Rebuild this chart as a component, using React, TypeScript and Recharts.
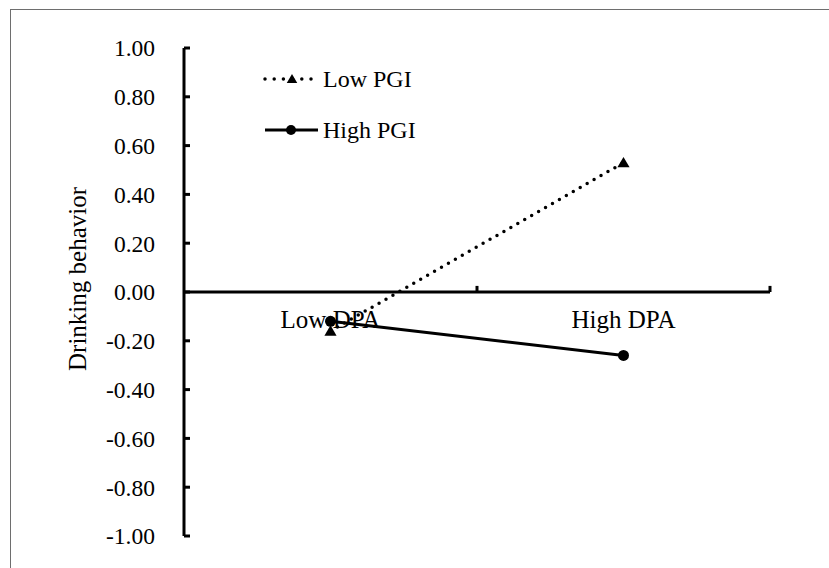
import React from 'react';
import { LineChart, Line, XAxis, YAxis, ReferenceLine, ReferenceDot, Legend } from 'recharts';

const categories = ['Low DPA', 'High DPA'];
const categoryPositions = [0.5, 1.5];
const boundaryTicks = [1, 2];
const seriesNames = ['Low PGI', 'High PGI'];
const lowPGI = [-0.16, 0.53];
const highPGI = [-0.12, -0.26];
const yTicks = [1, 0.8, 0.6, 0.4, 0.2, 0, -0.2, -0.4, -0.6, -0.8, -1];
const yLabel = 'Drinking behavior';

const data = categories.map((c, i) => ({
  name: c,
  x: categoryPositions[i],
  low: lowPGI[i],
  high: highPGI[i],
}));

const FONT = 'Liberation Serif';
const FS = 24;
const textStyle = { fontFamily: FONT, fontSize: FS } as const;

const YTick = (props: any) => {
  const { x, y, payload } = props;
  return (
    <g>
      <line x1={x + 29} x2={x + 35} y1={y} y2={y} stroke="#000" strokeWidth={3} />
      <text x={x} y={y} dy="0.355em" textAnchor="end" style={{ fontFamily: FONT, fontSize: 23.5 }} fill="#000">
        {Number(payload.value).toFixed(2)}
      </text>
    </g>
  );
};

const triPath = (cx: number, cy: number, s: number) =>
  `M${cx},${cy - s} L${cx + s * 1.05},${cy + s * 0.8} L${cx - s * 1.05},${cy + s * 0.8} Z`;

const renderTriangle = (props: any) => {
  const { cx, cy, index } = props;
  if (cx == null || cy == null) return <g key={`tri-${index}`} />;
  return <path key={`tri-${index}`} d={triPath(cx, cy, 5.8)} fill="#000" stroke="none" />;
};

const renderYLabel = (p: any) => {
  const vb = p && p.viewBox ? p.viewBox : { x: 0, y: 48, width: 184, height: 488 };
  const cx = vb.x + 77;
  const cy = vb.y + vb.height / 2 - 13;
  return (
    <text
      x={cx}
      y={cy}
      textAnchor="middle"
      dominantBaseline="central"
      transform={`rotate(-90 ${cx} ${cy})`}
      style={{ fontFamily: FONT, fontSize: 25 }}
      fill="#000"
    >
      {yLabel}
    </text>
  );
};

const CatLabel = (props: any) => {
  const vb = props.viewBox || { x: 0, y: 0, width: 0, height: 0 };
  const cx = vb.x + (vb.width || 0) / 2;
  const cy = vb.y + (vb.height || 0) + 36;
  return (
    <text x={cx} y={cy} textAnchor="middle" style={{ fontFamily: FONT, fontSize: 25 }} fill="#000">
      {props.value}
    </text>
  );
};

const renderLegend = () => (
  <svg width={200} height={100} style={{ overflow: 'visible', display: 'block' }}>
    <line x1={10} x2={56} y1={24} y2={24} stroke="#000" strokeWidth={3.5} strokeDasharray="0 9.2" strokeLinecap="round" />
    <path d={triPath(37, 24, 5)} fill="#000" />
    <text x={68} y={24 + 8} style={textStyle} fill="#000">{seriesNames[0]}</text>
    <line x1={10} x2={63} y1={75} y2={75} stroke="#000" strokeWidth={3} />
    <circle cx={36} cy={75} r={5} fill="#000" />
    <text x={68} y={75 + 8} style={textStyle} fill="#000">{seriesNames[1]}</text>
  </svg>
);

export default function App() {
  return (
    <div style={{ position: 'fixed', left: 0, top: 0, width: 829, height: 568, background: '#fff', overflow: 'hidden', fontFamily: FONT }}>
      <div
        style={{
          position: 'absolute',
          left: 10,
          top: 9,
          right: 0,
          bottom: 0,
          borderTop: '1.5px solid #6e6e6e',
          borderLeft: '1.5px solid #6e6e6e',
        }}
      />
      <div style={{ position: 'absolute', left: 0, top: 0 }}>
        <LineChart width={829} height={568} data={data} margin={{ top: 48, right: 59, bottom: 32, left: 0 }}>
          <XAxis type="number" dataKey="x" domain={[0, 2]} hide />
          <YAxis
            type="number"
            domain={[-1, 1]}
            ticks={yTicks}
            interval={0}
            width={184}
            tickSize={0}
            tickMargin={29}
            tickLine={false}
            axisLine={{ stroke: '#000', strokeWidth: 3 }}
            tick={<YTick />}
            label={{ position: 'center', content: renderYLabel }}
          />
          <ReferenceLine y={0} stroke="#000" strokeWidth={3} ifOverflow="visible" />
          {boundaryTicks.map((t) => (
            <ReferenceLine
              key={`bt-${t}`}
              segment={[{ x: t, y: 0 }, { x: t, y: 0.025 }]}
              stroke="#000"
              strokeWidth={3}
              ifOverflow="visible"
            />
          ))}
          {categories.map((c, i) => (
            <ReferenceDot
              key={`cat-${c}`}
              x={categoryPositions[i]}
              y={0}
              r={0}
              fill="none"
              stroke="none"
              ifOverflow="visible"
              label={{ value: c, content: (p: any) => <CatLabel {...p} value={c} /> }}
            />
          ))}
          <Line
            dataKey="low"
            name={seriesNames[0]}
            stroke="#000"
            strokeWidth={3.5}
            strokeDasharray="0 8"
            strokeLinecap="round"
            dot={renderTriangle}
            activeDot={false}
            isAnimationActive={false}
          />
          <Line
            dataKey="high"
            name={seriesNames[1]}
            stroke="#000"
            strokeWidth={3}
            dot={{ r: 5.5, fill: '#000', stroke: 'none' }}
            activeDot={false}
            isAnimationActive={false}
          />
          <Legend
            layout="horizontal"
            verticalAlign="middle"
            align="center"
            wrapperStyle={{ left: 255, top: 55, width: 200, height: 100 }}
            content={renderLegend}
          />
        </LineChart>
      </div>
    </div>
  );
}
